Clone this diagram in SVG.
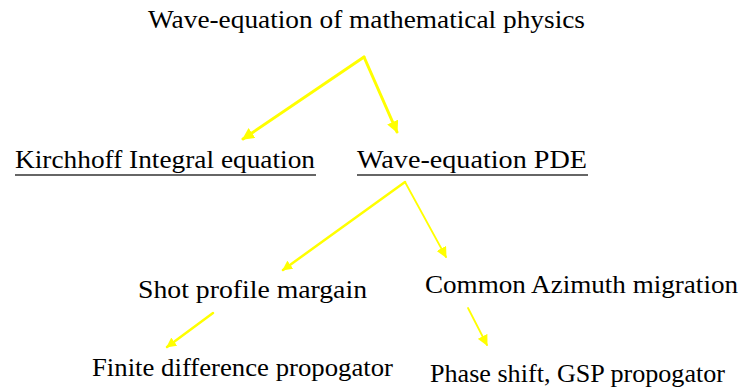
<svg xmlns="http://www.w3.org/2000/svg" width="743" height="389" viewBox="0 0 743 389">
<defs>
<marker id="ah" viewBox="0 0 10 10" refX="9" refY="5" markerWidth="4" markerHeight="4" orient="auto" markerUnits="strokeWidth">
<path d="M0,0 L10,5 L0,10 z" fill="#ffff00"/>
</marker>
<marker id="ah2" viewBox="0 0 10 10" refX="9" refY="5" markerWidth="6" markerHeight="6" orient="auto" markerUnits="strokeWidth">
<path d="M0,0 L10,5 L0,10 z" fill="#ffff00"/>
</marker>
</defs>
<style>
text{font-family:Liberation Serif,Tinos,Times New Roman,Times,Noto Serif,DejaVu Serif,serif;font-size:26px;fill:#000}
.c{stroke:#ffff00;fill:none;stroke-linecap:round}
.u{stroke:#333;stroke-width:1.5}
</style>
<rect width="743" height="389" fill="#fff"/>
<g id="connectors">
<path class="c" d="M364,57 L243,139" stroke-width="3" marker-end="url(#ah)"/>
<path class="c" d="M364,57 L397,132" stroke-width="3" marker-end="url(#ah)"/>
<path class="c" d="M405,182 L283,270" stroke-width="2.5" marker-end="url(#ah)"/>
<path class="c" d="M405,182 L446,257" stroke-width="1.8" marker-end="url(#ah2)"/>
<path class="c" d="M213,313 L167,347" stroke-width="2.5" marker-end="url(#ah)"/>
<path class="c" d="M468,308 L487,345" stroke-width="1.8" marker-end="url(#ah2)"/>
</g>
<g id="title"><text x="148" y="28" textLength="437" lengthAdjust="spacingAndGlyphs">Wave-equation of mathematical physics</text></g>
<g id="kirchhoff"><text x="15" y="168" textLength="300" lengthAdjust="spacingAndGlyphs">Kirchhoff Integral equation</text><line class="u" x1="15" y1="175" x2="316" y2="175"/></g>
<g id="pde"><text x="357" y="168" textLength="230" lengthAdjust="spacingAndGlyphs">Wave-equation PDE</text><line class="u" x1="357" y1="175" x2="588" y2="175"/></g>
<g id="shot"><text x="138" y="298" textLength="229" lengthAdjust="spacingAndGlyphs">Shot profile margain</text></g>
<g id="common"><text x="425" y="293" textLength="313" lengthAdjust="spacingAndGlyphs">Common Azimuth migration</text></g>
<g id="finite"><text x="92" y="376" textLength="301" lengthAdjust="spacingAndGlyphs">Finite difference propogator</text></g>
<g id="phase"><text x="430" y="382" textLength="295" lengthAdjust="spacingAndGlyphs">Phase shift, GSP propogator</text></g>
</svg>
